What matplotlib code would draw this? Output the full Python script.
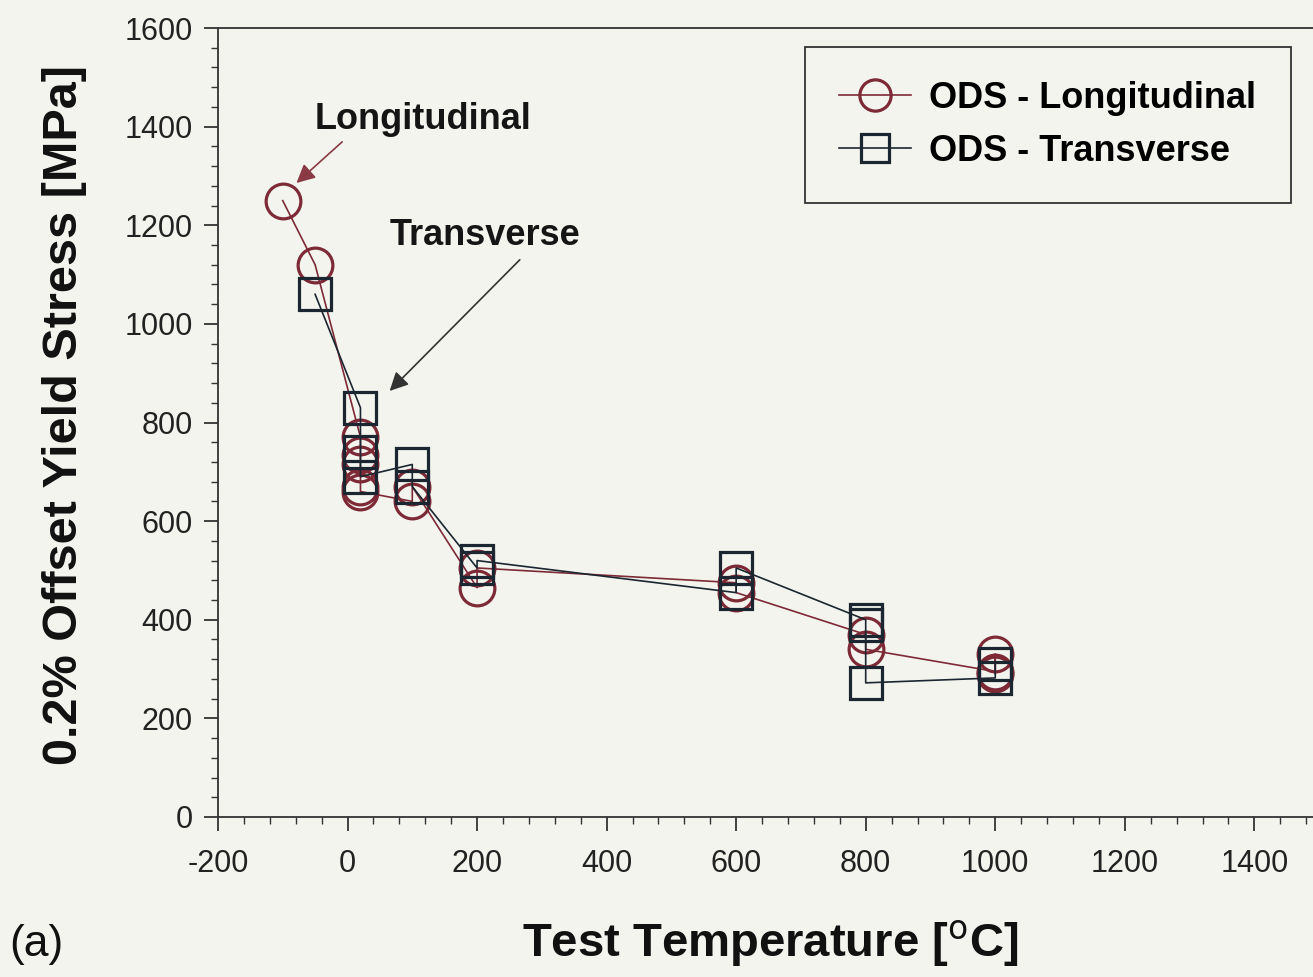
import matplotlib
matplotlib.use('Agg')
import matplotlib.pyplot as plt
from matplotlib.ticker import MultipleLocator

# values, in the order the lines join them
long_temp = [-100, -50, 20, 20, 20, 20, 20, 100, 100, 200, 200, 600, 600, 800, 800, 1000, 1000, 1000]
long_stress = [1250, 1120, 770, 735, 715, 670, 660, 640, 670, 465, 505, 475, 455, 370, 340, 295, 330, 290]

trans_temp = [-50, 20, 20, 20, 100, 100, 200, 200, 600, 600, 800, 800, 800, 1000, 1000]
trans_stress = [1060, 830, 740, 690, 715, 670, 505, 520, 455, 505, 400, 390, 272, 282, 310]

x_ticks = [-200, 0, 200, 400, 600, 800, 1000, 1200, 1400]
y_ticks = [0, 200, 400, 600, 800, 1000, 1200, 1400, 1600]

bg = '#f3f4ee'
red = '#7d2a36'
dark = '#1b2630'

plt.rcParams['font.family'] = ['Liberation Sans', 'DejaVu Sans']
plt.rcParams['axes.unicode_minus'] = False

fig = plt.figure(figsize=(13.13, 9.77), dpi=100, facecolor=bg)
ax = fig.add_axes([0.166, 0.1638, 0.888, 0.8075], facecolor=bg)

ax.plot(long_temp, long_stress, color=red, lw=1.2, marker='o', ms=25,
        mfc='none', mec=red, mew=2.3, label='ODS - Longitudinal', zorder=3)
ax.plot(trans_temp, trans_stress, color=dark, lw=1.2, marker='s', ms=23,
        mfc='none', mec=dark, mew=2.3, label='ODS - Transverse', zorder=3)

ax.set_xlim(-200, 1600)
ax.set_ylim(0, 1600)
ax.set_xticks(x_ticks)
ax.set_yticks(y_ticks)
ax.xaxis.set_minor_locator(MultipleLocator(40))
ax.yaxis.set_minor_locator(MultipleLocator(40))
ax.tick_params(axis='both', which='major', direction='out', length=10, width=1.3,
               colors='#333333', labelsize=22, labelcolor='#222222')
ax.tick_params(axis='both', which='minor', direction='out', length=5, width=1.0, colors='#333333')
ax.tick_params(axis='x', which='major', pad=13)
ax.tick_params(axis='y', which='major', pad=8)
for s in ax.spines.values():
    s.set_color('#333333')
    s.set_linewidth(1.3)

ax.set_ylabel('0.2% Offset Yield Stress [MPa]', fontsize=35, fontweight='bold', color='#111111')
ax.yaxis.set_label_coords(-0.112, 0.51)
fig.text(0.587, 0.033, r'Test Temperature [$^{\mathrm{o}}$C]', fontsize=34, fontweight='bold',
         ha='center', va='center', color='#111111')
fig.text(0.007, 0.033, '(a)', fontsize=32, ha='left', va='center', color='#111111')

ax.annotate('', xy=(-82, 1282), xytext=(-5, 1373),
            arrowprops=dict(arrowstyle='-|>', color='#8a3a44', lw=1.2, mutation_scale=28))
ax.text(-51, 1414, 'Longitudinal', fontsize=26, fontweight='bold', va='center', color='#151515')
ax.annotate('', xy=(62, 860), xytext=(269, 1134),
            arrowprops=dict(arrowstyle='-|>', color='#333333', lw=1.2, mutation_scale=28))
ax.text(65, 1180, 'Transverse', fontsize=26, fontweight='bold', va='center', color='#151515')

leg = ax.legend(loc='upper left', bbox_to_anchor=(0.494, 0.99),
                prop={'weight': 'bold', 'size': 26}, frameon=True, fancybox=False,
                handlelength=2.0, borderpad=0.95, labelspacing=0.5, handletextpad=0.5,
                markerscale=0.9, borderaxespad=0.3)
leg.get_frame().set_edgecolor('#333333')
leg.get_frame().set_linewidth(1.3)
leg.get_frame().set_facecolor(bg)
leg.get_frame().set_alpha(1)

fig.savefig('out.png', dpi=100, facecolor=bg)
